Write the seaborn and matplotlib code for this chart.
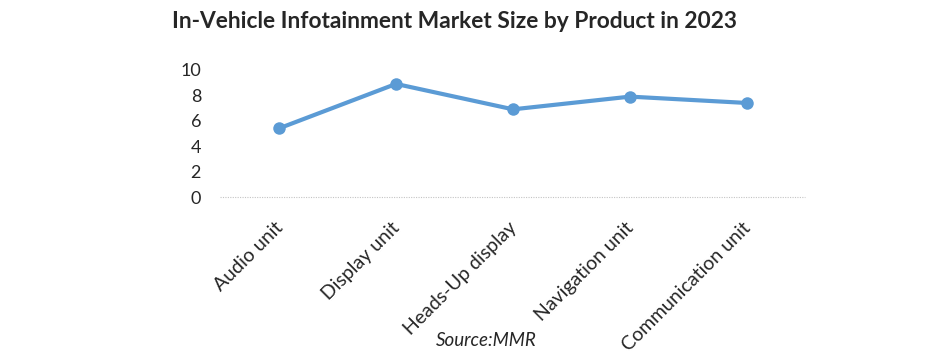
import pandas as pd
import seaborn as sns
import matplotlib.pyplot as plt
import matplotlib.transforms as mtransforms

# Market size by product
products = ["Audio unit", "Display unit", "Heads-Up display", "Navigation unit", "Communication unit"]
market_size = [5.4, 8.9, 6.9, 7.9, 7.4]
y_ticks = [0, 2, 4, 6, 8, 10]

data = pd.DataFrame({"Product": products, "Size": market_size})

sns.set_style("white")
plt.rcParams['font.family'] = ['Lato', 'DejaVu Sans']

fig = plt.figure(figsize=(9.41, 3.55), dpi=100)
ax = fig.add_axes([0.2343, 0.445, 0.6217, 0.358])

sns.lineplot(x="Product", y="Size", data=data, ax=ax, color="#5B9BD5",
             linewidth=3, marker="o", markersize=9, markeredgewidth=0, sort=False)

ax.set_xlim(-0.5, len(products) - 0.5)
ax.set_ylim(0, 10)
ax.set_yticks(y_ticks)
ax.set_yticklabels([str(t) for t in y_ticks], fontsize=13)
ax.tick_params(axis="y", length=0, pad=14)
ax.tick_params(axis="x", length=0, pad=16)
shift = mtransforms.ScaledTranslation(-5 / 100, 0, fig.dpi_scale_trans)
for lab in ax.get_xticklabels():
    lab.set_rotation(45)
    lab.set_ha("right")
    lab.set_rotation_mode("anchor")
    lab.set_fontsize(14)
    lab.set_transform(lab.get_transform() + shift)
ax.set_xlabel("")
ax.set_ylabel("")
for s in ax.spines.values():
    s.set_visible(False)
# dotted baseline at zero
ax.axhline(0, color="#C4C4C4", linewidth=0.8, linestyle=(0, (1, 1.2)), zorder=0, clip_on=False)

fig.text(0.4835, 0.94, "In-Vehicle Infotainment Market Size by Product in 2023",
         ha="center", va="center", fontsize=16.4, fontweight="bold")
fig.text(0.5165, 0.042, "Source:MMR", ha="center", va="center", fontsize=13.5, style="italic")

fig.savefig("out.png", dpi=100)
